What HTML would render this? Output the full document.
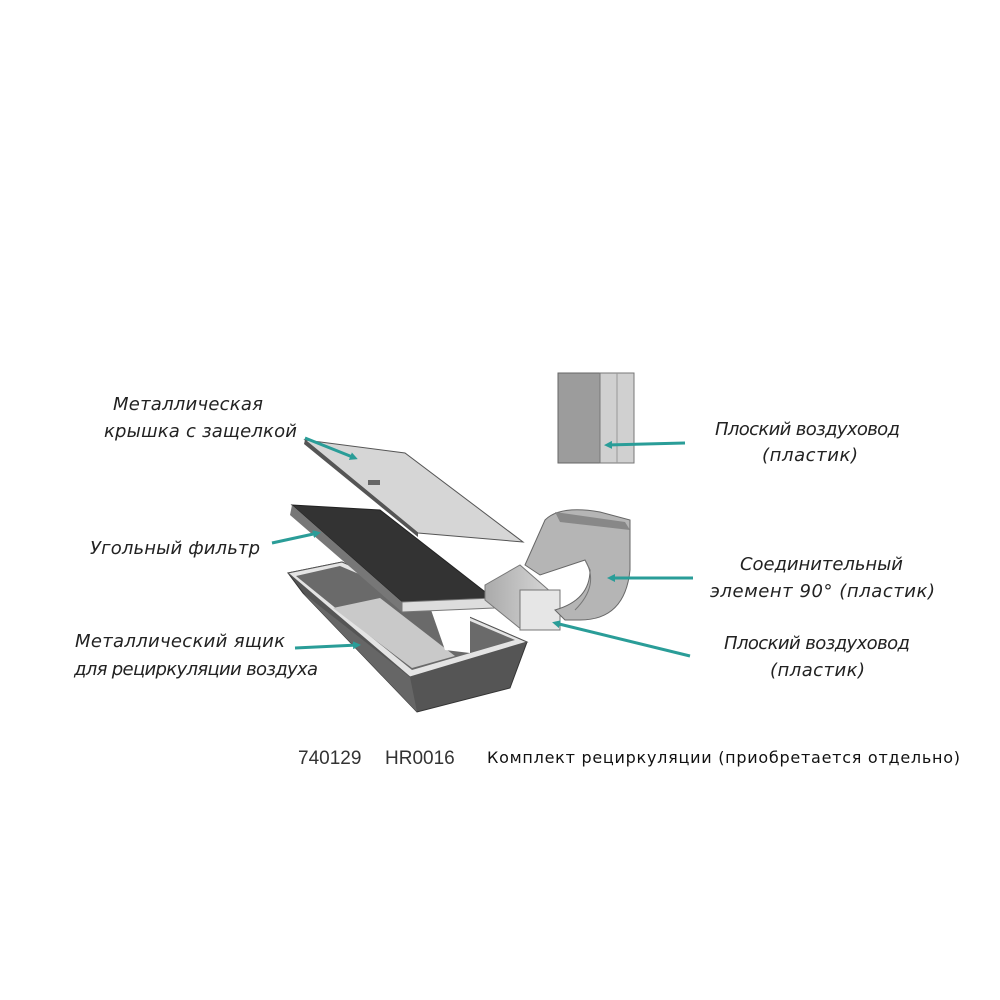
<!DOCTYPE html>
<html><head><meta charset="utf-8"><style>
html,body{margin:0;padding:0;background:#fff}
svg{display:block}
.l{font-family:"DejaVu Sans","Liberation Sans",sans-serif;font-style:italic;font-size:18px;fill:#222}
</style></head><body>
<svg width="1000" height="1000" viewBox="0 0 1000 1000" xmlns="http://www.w3.org/2000/svg">
<defs>
<marker id="a" markerWidth="8" markerHeight="8" refX="5" refY="4" orient="auto" markerUnits="userSpaceOnUse">
<path d="M0,0 L8,4 L0,8 z" fill="#2a9d98"/></marker>
<linearGradient id="g1" x1="0" x2="1"><stop offset="0" stop-color="#aaa"/><stop offset="1" stop-color="#ddd"/></linearGradient>
</defs>
<rect x="558" y="373" width="44" height="90" fill="#9c9c9c" stroke="#666"/>
<rect x="600" y="373" width="34" height="90" fill="#d0d0d0" stroke="#777"/>
<line x1="617" y1="373" x2="617" y2="463" stroke="#999"/>
<polygon points="288,573 303,593 417,712 510,688 527,642 342,562" fill="#555" stroke="#333"/>
<polygon points="303,593 410,677 417,712" fill="#666"/>
<polygon points="288,573 342,562 527,642 410,677" fill="#e4e4e4" stroke="#555"/>
<polygon points="296,576 340,566 515,640 412,670" fill="#6a6a6a"/>
<polygon points="333,608 380,598 455,656 412,668" fill="#c9c9c9"/>
<polygon points="430,607 470,605 470,653 445,650" fill="#fff"/>
<polygon points="292,505 380,510 493,598 402,602" fill="#333" stroke="#222"/>
<polygon points="292,505 402,602 402,612 290,515" fill="#777"/>
<polygon points="402,602 493,598 494,608 402,612" fill="#ddd" stroke="#777"/>
<polygon points="305,440 405,453 523,542 418,533" fill="#d6d6d6" stroke="#555"/>
<polygon points="305,440 418,533 418,537 304,444" fill="#555"/>
<rect x="368" y="480" width="12" height="5" fill="#666"/>
<polygon points="485,585 520,565 560,600 560,630 522,630 485,600" fill="url(#g1)" stroke="#777"/>
<rect x="520" y="590" width="40" height="40" fill="#e6e6e6" stroke="#777"/>
<path d="M525,565 L545,520 Q560,505 600,512 L630,520 L630,570 Q625,620 580,620 L565,620 L555,610 Q590,600 590,570 L585,560 L540,575 Z" fill="#b5b5b5" stroke="#666"/>
<polygon points="555,512 625,522 630,530 560,522" fill="#888"/>
<path d="M585,560 Q600,585 575,610" fill="none" stroke="#777"/>
<g stroke="#2a9d98" stroke-width="3" marker-end="url(#a)">
<line x1="305" y1="438" x2="355" y2="458"/>
<line x1="685" y1="443" x2="607" y2="445"/>
<line x1="272" y1="543" x2="318" y2="533"/>
<line x1="693" y1="578" x2="610" y2="578"/>
<line x1="690" y1="656" x2="555" y2="623"/>
<line x1="295" y1="648" x2="358" y2="645"/>
</g>
<text class="l" x="113" y="410" textLength="150">Металлическая</text>
<text class="l" x="104" y="437" textLength="193">крышка с защелкой</text>
<text class="l" x="90" y="554" textLength="170">Угольный фильтр</text>
<text class="l" x="75" y="647" textLength="210">Металлический ящик</text>
<text class="l" x="74" y="675" textLength="244">для рециркуляции воздуха</text>
<text class="l" x="715" y="435" textLength="185">Плоский воздуховод</text>
<text class="l" x="762" y="461" textLength="96">(пластик)</text>
<text class="l" x="740" y="570" textLength="163">Соединительный</text>
<text class="l" x="710" y="597" textLength="225">элемент 90° (пластик)</text>
<text class="l" x="724" y="649" textLength="186">Плоский воздуховод</text>
<text class="l" x="770" y="676" textLength="95">(пластик)</text>
<text x="298" y="764" font-family="Liberation Sans,sans-serif" font-size="19" fill="#333">740129</text>
<text x="385" y="764" font-family="Liberation Sans,sans-serif" font-size="19" fill="#333">HR0016</text>
<text x="487" y="763" font-family="DejaVu Sans,Liberation Sans,sans-serif" font-size="16" fill="#111" textLength="473">Комплект рециркуляции (приобретается отдельно)</text>
</svg>
</body></html>
